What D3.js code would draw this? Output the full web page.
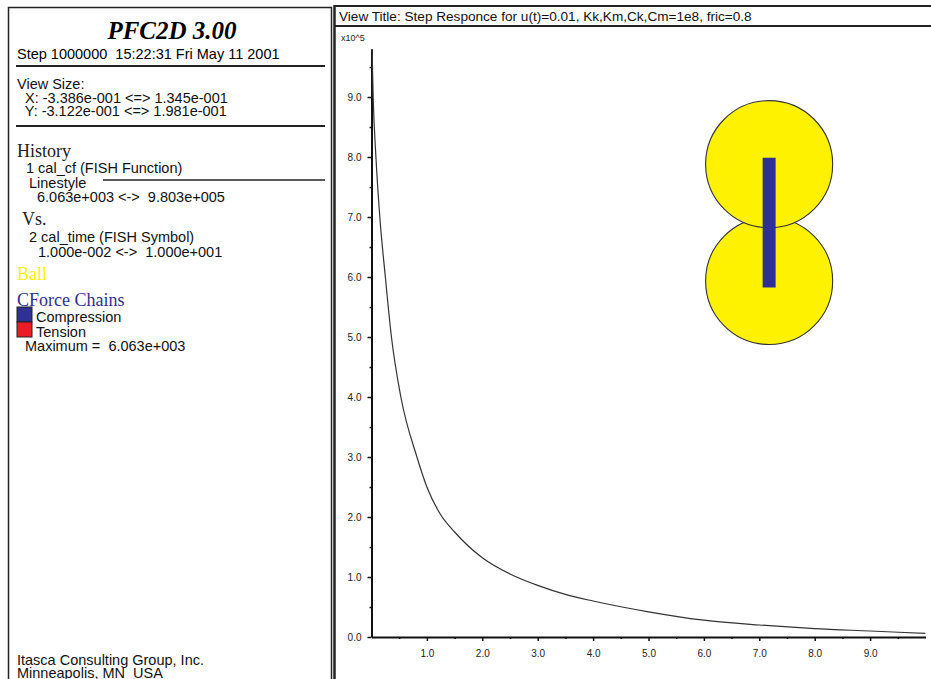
<!DOCTYPE html>
<html>
<head>
<meta charset="utf-8">
<script src="https://cdn.jsdelivr.net/npm/d3@7"></script>
<style>
  body { margin: 0; background: #fff; }
  svg { display: block; }
</style>
</head>
<body>
<div id="chart"></div>
<script>
// history values (force in units of 1e5, time)
const timeVals = [0.01, 0.03, 0.08, 0.15, 0.25, 0.36, 0.53, 0.82, 1.0, 1.24, 1.5, 2.0, 2.5, 3.0, 3.5, 4.0, 5.0, 6.0, 7.0, 8.0, 9.0, 10.0];
const forceVals = [9.80, 9.0, 8.0, 7.0, 6.0, 5.0, 4.0, 3.0, 2.5, 2.05, 1.75, 1.32, 1.05, 0.86, 0.71, 0.6, 0.42, 0.28, 0.2, 0.14, 0.1, 0.06];

const yTicks = [0, 1, 2, 3, 4, 5, 6, 7, 8, 9];
const xTicks = [1, 2, 3, 4, 5, 6, 7, 8, 9];

// balls in model coordinates (m)
const ballX = [0, 0];
const ballY = [0, 0.092];
const ballR = [0.05, 0.05];
// contact force chain between the two balls
const chainFrom = [0, 0];
const chainTo = [0, 0.092];

const viewX = [-0.3386, 0.1345];
const viewY = [-0.3122, 0.1981];

const infoLines = [
  { t: "View Size:", x: 17, y: 89 },
  { t: " X: -3.386e-001 <=> 1.345e-001", x: 21, y: 102.5 },
  { t: " Y: -3.122e-001 <=> 1.981e-001", x: 21, y: 116 },
  { t: "1 cal_cf (FISH Function)", x: 26, y: 173 },
  { t: "Linestyle", x: 29, y: 188 },
  { t: "6.063e+003 <->  9.803e+005", x: 37, y: 202 },
  { t: "2 cal_time (FISH Symbol)", x: 29, y: 242 },
  { t: "1.000e-002 <->  1.000e+001", x: 38, y: 257 },
  { t: "Compression", x: 36, y: 322 },
  { t: "Tension", x: 36, y: 337 },
  { t: "Maximum =  6.063e+003", x: 25, y: 351 },
  { t: "Itasca Consulting Group, Inc.", x: 17, y: 665 },
  { t: "Minneapolis, MN  USA", x: 17, y: 678 }
];

const W = 931, H = 679;
const svg = d3.select("#chart").append("svg")
  .attr("width", W).attr("height", H);

const sans = "'Liberation Sans', Arial, sans-serif";
const serif = "'Liberation Serif', 'Times New Roman', serif";

// ---- left info panel
svg.append("path")
  .attr("d", `M8.5,${H} V7.5 H331.5 V${H}`)
  .attr("fill", "none").attr("stroke", "#222").attr("stroke-width", 1.5);

svg.append("text").attr("x", 172).attr("y", 39)
  .attr("text-anchor", "middle")
  .style("font-family", serif).style("font-size", "25px")
  .style("font-weight", "bold").style("font-style", "italic")
  .text("PFC2D 3.00");

svg.append("text").attr("x", 17).attr("y", 59)
  .style("font-family", sans).style("font-size", "14.5px")
  .attr("xml:space", "preserve")
  .text("Step 1000000  15:22:31 Fri May 11 2001");

[66, 126].forEach(yy => {
  svg.append("line").attr("x1", 16).attr("x2", 325).attr("y1", yy).attr("y2", yy)
    .attr("stroke", "#222").attr("stroke-width", 2);
});

svg.selectAll("text.info").data(infoLines).enter().append("text")
  .attr("class", "info")
  .attr("x", d => d.x).attr("y", d => d.y)
  .attr("xml:space", "preserve")
  .style("font-family", sans).style("font-size", "14.5px").style("fill", "#111")
  .text(d => d.t);

// linestyle sample
svg.append("line").attr("x1", 103).attr("x2", 325).attr("y1", 180).attr("y2", 180)
  .attr("stroke", "#222").attr("stroke-width", 1.3);

svg.append("text").attr("x", 17).attr("y", 157)
  .style("font-family", serif).style("font-size", "18px").style("fill", "#222")
  .text("History");
svg.append("text").attr("x", 22).attr("y", 225)
  .style("font-family", serif).style("font-size", "18px").style("fill", "#222")
  .text("Vs.");
svg.append("text").attr("x", 17).attr("y", 280)
  .style("font-family", serif).style("font-size", "18px").style("fill", "#fff200")
  .text("Ball");
svg.append("text").attr("x", 17).attr("y", 305.5)
  .style("font-family", serif).style("font-size", "18px").style("fill", "#2e3192")
  .text("CForce Chains");

svg.append("rect").attr("x", 17).attr("y", 307).attr("width", 15).attr("height", 15)
  .attr("fill", "#2e3192").attr("stroke", "#222").attr("stroke-width", 1);
svg.append("rect").attr("x", 17).attr("y", 322).attr("width", 15).attr("height", 15)
  .attr("fill", "#ed1c24").attr("stroke", "#222").attr("stroke-width", 1);

// ---- chart panel frame
svg.append("line").attr("x1", 334.5).attr("x2", 334.5).attr("y1", 5).attr("y2", H)
  .attr("stroke", "#222").attr("stroke-width", 2.5);
svg.append("line").attr("x1", 334).attr("x2", W).attr("y1", 6).attr("y2", 6)
  .attr("stroke", "#222").attr("stroke-width", 2);
svg.append("line").attr("x1", 334).attr("x2", W).attr("y1", 26).attr("y2", 26)
  .attr("stroke", "#222").attr("stroke-width", 2.2);

svg.append("text").attr("x", 339).attr("y", 21)
  .style("font-family", sans).style("font-size", "13.6px").style("fill", "#111")
  .text("View Title: Step Responce for u(t)=0.01, Kk,Km,Ck,Cm=1e8, fric=0.8");

svg.append("text").attr("x", 341).attr("y", 41)
  .style("font-family", sans).style("font-size", "9px").style("fill", "#222")
  .text("x10^5");

// ---- balls and contact force (model view)
const vx = d3.scaleLinear().domain(viewX).range([339, 940]);
const vy = d3.scaleLinear().domain(viewY).range([677.5, 29.4]);
const pxPerM = (vx(1) - vx(0));

svg.selectAll("circle.ball").data(d3.range(ballX.length)).enter().append("circle")
  .attr("class", "ball")
  .attr("cx", i => vx(ballX[i])).attr("cy", i => vy(ballY[i]))
  .attr("r", i => ballR[i] * pxPerM)
  .attr("fill", "#fff200").attr("stroke", "#333").attr("stroke-width", 1.1);

svg.append("line")
  .attr("x1", vx(chainFrom[0])).attr("y1", vy(chainFrom[1]))
  .attr("x2", vx(chainTo[0])).attr("y2", vy(chainTo[1]))
  .attr("stroke", "#2e3192").attr("stroke-width", 13).attr("stroke-linecap", "square");

// ---- history plot
const x = d3.scaleLinear().domain([0, 10]).range([371.5, 925.5]);
const y = d3.scaleLinear().domain([0, 9.8]).range([637, 49]);

const gy = svg.append("g").attr("transform", `translate(${x(0)},0)`)
  .call(d3.axisLeft(y).tickValues(yTicks).tickFormat(d3.format(".1f"))
    .tickSize(4).tickPadding(6).tickSizeOuter(0));
gy.select(".domain").attr("stroke", "#111").attr("stroke-width", 2);

const gyMinor = svg.append("g").attr("transform", `translate(${x(0)},0)`)
  .call(d3.axisLeft(y).tickValues(yTicks.map(v => v + 0.5)).tickFormat("")
    .tickSize(2).tickSizeOuter(0));
gyMinor.select(".domain").remove();

const gx = svg.append("g").attr("transform", `translate(0,${y(0)})`)
  .call(d3.axisBottom(x).tickValues(xTicks).tickFormat(d3.format(".1f"))
    .tickSize(4).tickPadding(9).tickSizeOuter(0));
gx.select(".domain").attr("stroke", "#111").attr("stroke-width", 2);

const gxMinor = svg.append("g").attr("transform", `translate(0,${y(0)})`)
  .call(d3.axisBottom(x).tickValues([0, ...xTicks].map(v => v + 0.5)).tickFormat("")
    .tickSize(2).tickSizeOuter(0));
gxMinor.select(".domain").remove();

svg.selectAll(".tick line").attr("stroke", "#111").attr("stroke-width", 1.5);
svg.selectAll(".tick text")
  .style("font-family", sans).style("font-size", "10px").style("fill", "#222");

const line = d3.line()
  .curve(d3.curveMonotoneX)
  .x(i => x(timeVals[i]))
  .y(i => y(forceVals[i]));

svg.append("path")
  .datum(d3.range(timeVals.length))
  .attr("d", line)
  .attr("fill", "none")
  .attr("stroke", "#333")
  .attr("stroke-width", 1.2);
</script>
</body>
</html>
